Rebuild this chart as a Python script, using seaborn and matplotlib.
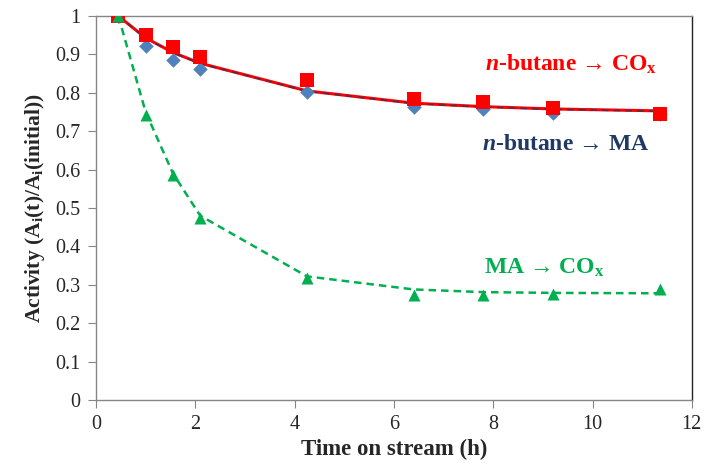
import seaborn as sns
import matplotlib.pyplot as plt

# time on stream (h)
time_h = [0.45, 1.0, 1.55, 2.1, 4.25, 6.4, 7.8, 9.2, 11.35]

# measured activities
butane_cox = [1.0, 0.951, 0.920, 0.892, 0.833, 0.784, 0.777, 0.761, 0.745]
butane_ma = [1.0, 0.922, 0.885, 0.861, 0.801, 0.762, 0.758, 0.748, 0.745]
ma_cox = [1.0, 0.742, 0.586, 0.474, 0.318, 0.273, 0.273, 0.276, 0.290]

# fitted model curves
fit_butane_cox = [1.0, 0.943, 0.905, 0.877, 0.805, 0.773, 0.764, 0.758, 0.753]
fit_butane_ma = [1.0, 0.942, 0.904, 0.876, 0.804, 0.772, 0.763, 0.757, 0.752]
fit_ma_cox = [1.0, 0.75, 0.59, 0.48, 0.322, 0.288, 0.281, 0.279, 0.278]

x_ticks = [0, 2, 4, 6, 8, 10, 12]
y_ticks = [0, 0.1, 0.2, 0.3, 0.4, 0.5, 0.6, 0.7, 0.8, 0.9, 1.0]

RED = "#FF0000"
BLUE = "#4F81BD"
NAVY = "#1F3864"
GREEN = "#00B050"

sns.set_style("white")
plt.rcParams["font.family"] = ["Liberation Serif", "DejaVu Serif"]
plt.rcParams["mathtext.fontset"] = "custom"
plt.rcParams["mathtext.rm"] = "Liberation Serif:bold"
plt.rcParams["mathtext.it"] = "Liberation Serif:italic:bold"
plt.rcParams["mathtext.bf"] = "Liberation Serif:bold"

fig, ax = plt.subplots(figsize=(7.11, 4.63), dpi=100)
fig.subplots_adjust(left=0.135, right=0.973, bottom=0.136, top=0.9654)

# fitted curves
sns.lineplot(x=time_h, y=fit_butane_cox, ax=ax, color=RED, linewidth=2.2, zorder=2)
sns.lineplot(x=time_h, y=fit_butane_ma, ax=ax, color=NAVY, linewidth=1.2,
             linestyle=(0, (4, 3)), alpha=0.7, zorder=3)
sns.lineplot(x=time_h, y=fit_ma_cox, ax=ax, color=GREEN, linewidth=1.8,
             linestyle=(0, (3, 2)), zorder=2)

# measured points
sns.scatterplot(x=time_h, y=butane_ma, ax=ax, marker="D", s=55, color=BLUE,
                linewidth=0, zorder=4)
sns.scatterplot(x=time_h, y=butane_cox, ax=ax, marker="s", s=95, color=RED,
                linewidth=0, zorder=5)
sns.scatterplot(x=time_h, y=ma_cox, ax=ax, marker="^", s=75, color=GREEN,
                linewidth=0, zorder=5)

ax.set_xlim(0, 12)
ax.set_ylim(0, 1)
ax.set_xticks(x_ticks)
ax.set_yticks(y_ticks)
ax.set_xticklabels([str(t) for t in x_ticks])
ax.set_yticklabels(["0"] + [f"{t:.1f}" for t in y_ticks[1:-1]] + ["1"])
ax.tick_params(axis="both", labelsize=14.5, length=6, width=0.8, color="#868686",
               direction="out", bottom=True, left=True, pad=5)

for side in ["left", "bottom", "top"]:
    ax.spines[side].set_color("#868686")
    ax.spines[side].set_linewidth(1.0)
ax.spines["right"].set_color("#222222")
ax.spines["right"].set_linewidth(1.0)

ax.set_xlabel("Time on stream (h)", fontsize=16.5, fontweight="bold", labelpad=3)
ax.set_ylabel(r"Activity (A$_\mathrm{i}$(t)/A$_\mathrm{i}$(initial))",
              fontsize=15.5, fontweight="bold", labelpad=6)

ax.text(9.56, 0.875, r"$\mathit{n}$-butane → CO$_\mathrm{x}$", color=RED,
        fontsize=17, fontweight="bold", ha="center", va="center")
ax.text(9.45, 0.665, r"$\mathit{n}$-butane → MA", color=NAVY,
        fontsize=17, fontweight="bold", ha="center", va="center")
ax.text(9.02, 0.345, r"MA → CO$_\mathrm{x}$", color=GREEN,
        fontsize=17, fontweight="bold", ha="center", va="center")

fig.savefig("out.png", dpi=100)
